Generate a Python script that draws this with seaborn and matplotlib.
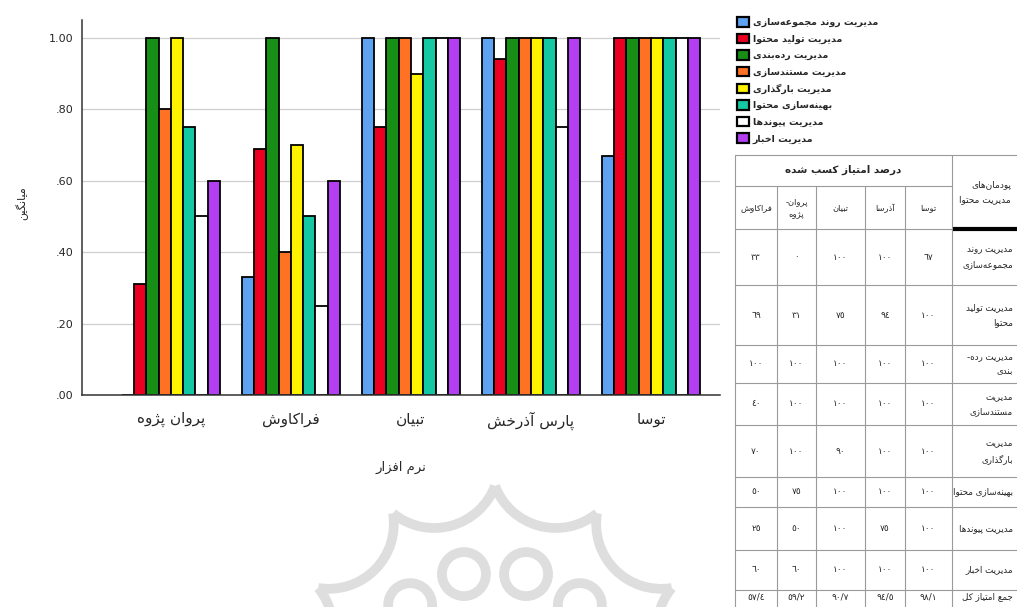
"""
Content management software comparison - grouped bar chart with score table
"""
import numpy as np
import pandas as pd
import matplotlib
matplotlib.use('Agg')
import matplotlib.pyplot as plt
from matplotlib.patches import Circle, Arc
import seaborn as sns

# Data
software = ['پروان پژوه', 'فراکاوش', 'تبیان', 'پارس آذرخش', 'توسا']
modules = ['مدیریت روند مجموعه‌سازی', 'مدیریت تولید محتوا', 'مدیریت رده‌بندی',
           'مدیریت مستندسازی', 'مدیریت بارگذاری', 'بهینه‌سازی محتوا',
           'مدیریت پیوندها', 'مدیریت اخبار']
colors = ['#5ea2f2', '#ec0022', '#178f17', '#ff7224', '#fff200', '#14c8a4',
          '#ffffff', '#b43ef2']

collection = [0.00, 0.33, 1.00, 1.00, 0.67]
production = [0.31, 0.69, 0.75, 0.94, 1.00]
classification = [1.00, 1.00, 1.00, 1.00, 1.00]
documentation = [0.80, 0.40, 1.00, 1.00, 1.00]
upload = [1.00, 0.70, 0.90, 1.00, 1.00]
optimization = [0.75, 0.50, 1.00, 1.00, 1.00]
links = [0.50, 0.25, 1.00, 0.75, 1.00]
news = [0.60, 0.60, 1.00, 1.00, 1.00]
series = [collection, production, classification, documentation,
          upload, optimization, links, news]

# table (columns right to left, as in the source)
table_cols = ['توسا', 'آذرسا', 'تبیان', 'پروان-\nپژوه', 'فراکاوش']
table_order = [4, 3, 2, 0, 1]
table_rows = ['مدیریت روند\nمجموعه‌سازی', 'مدیریت تولید\nمحتوا', 'مدیریت رده-\nبندی',
              'مدیریت\nمستندسازی', 'مدیریت\nبارگذاری', 'بهینه‌سازی محتوا',
              'مدیریت پیوندها', 'مدیریت اخبار']
# the printed table gives 100 for documentation of پروان پژوه
table_documentation = [1.00, 0.40, 1.00, 1.00, 1.00]
table_series = [collection, production, classification, table_documentation,
                upload, optimization, links, news]
totals = [98.1, 94.5, 90.7, 59.2, 57.4]

# Persian shaping (matplotlib has no bidi / joining support)
_F = {
    '\u0627': (0xFE8D, 0xFE8E, None, None), '\u0622': (0xFE81, 0xFE82, None, None),
    '\u0628': (0xFE8F, 0xFE90, 0xFE91, 0xFE92), '\u067E': (0xFB56, 0xFB57, 0xFB58, 0xFB59),
    '\u062A': (0xFE95, 0xFE96, 0xFE97, 0xFE98), '\u062B': (0xFE99, 0xFE9A, 0xFE9B, 0xFE9C),
    '\u062C': (0xFE9D, 0xFE9E, 0xFE9F, 0xFEA0), '\u0686': (0xFB7A, 0xFB7B, 0xFB7C, 0xFB7D),
    '\u062D': (0xFEA1, 0xFEA2, 0xFEA3, 0xFEA4), '\u062E': (0xFEA5, 0xFEA6, 0xFEA7, 0xFEA8),
    '\u062F': (0xFEA9, 0xFEAA, None, None), '\u0630': (0xFEAB, 0xFEAC, None, None),
    '\u0631': (0xFEAD, 0xFEAE, None, None), '\u0632': (0xFEAF, 0xFEB0, None, None),
    '\u0698': (0xFB8A, 0xFB8B, None, None), '\u0633': (0xFEB1, 0xFEB2, 0xFEB3, 0xFEB4),
    '\u0634': (0xFEB5, 0xFEB6, 0xFEB7, 0xFEB8), '\u0635': (0xFEB9, 0xFEBA, 0xFEBB, 0xFEBC),
    '\u0637': (0xFEC1, 0xFEC2, 0xFEC3, 0xFEC4), '\u0639': (0xFEC9, 0xFECA, 0xFECB, 0xFECC),
    '\u0641': (0xFED1, 0xFED2, 0xFED3, 0xFED4), '\u0642': (0xFED5, 0xFED6, 0xFED7, 0xFED8),
    '\u06A9': (0xFB8E, 0xFB8F, 0xFB90, 0xFB91), '\u06AF': (0xFB92, 0xFB93, 0xFB94, 0xFB95),
    '\u0644': (0xFEDD, 0xFEDE, 0xFEDF, 0xFEE0), '\u0645': (0xFEE1, 0xFEE2, 0xFEE3, 0xFEE4),
    '\u0646': (0xFEE5, 0xFEE6, 0xFEE7, 0xFEE8), '\u0648': (0xFEED, 0xFEEE, None, None),
    '\u0647': (0xFEE9, 0xFEEA, 0xFEEB, 0xFEEC), '\u06CC': (0xFBFC, 0xFBFD, 0xFBFE, 0xFBFF),
}


def fa(text):
    lines = []
    for line in text.split('\n'):
        out = []
        for i, ch in enumerate(line):
            f = _F.get(ch)
            if f is None:
                out.append(ch)
                continue
            prev = line[i - 1] if i > 0 else ''
            nxt = line[i + 1] if i + 1 < len(line) else ''
            pj = prev in _F and _F[prev][2] is not None
            nj = nxt in _F and f[2] is not None
            if pj and nj:
                out.append(chr(f[3]))
            elif pj:
                out.append(chr(f[1]))
            elif nj:
                out.append(chr(f[2]))
            else:
                out.append(chr(f[0]))
        lines.append(''.join(out).replace('\u200c', '')[::-1])
    return '\n'.join(lines)


def fa_num(v):
    s = ('%g' % v).replace('.', '/')
    return s.translate(str.maketrans('0123456789', '٠١٢٣٤٥٦٧٨٩'))


df = pd.DataFrame({fa(m): s for m, s in zip(modules, series)})
df['software'] = [fa(s) for s in software]
long = df.melt(id_vars='software', var_name='module', value_name='score')

sns.set_style('white')
plt.rcParams['font.family'] = ['DejaVu Sans']

fig = plt.figure(figsize=(10.17, 6.07), dpi=100)
W, H = 1017, 607
ax = fig.add_axes([82 / W, 1 - 395 / H, (720 - 82) / W, (395 - 20) / H])
ax.set_zorder(2)
ax.patch.set_alpha(0)

sns.barplot(data=long, x='software', y='score', hue='module',
            order=[fa(s) for s in software], hue_order=[fa(m) for m in modules],
            palette=colors, edgecolor='black', linewidth=1.3, width=0.82,
            saturation=1, ax=ax)

ax.set_ylim(0, 1.05)
ax.set_xlim(-0.74, 4.575)
ax.set_yticks([0, 0.2, 0.4, 0.6, 0.8, 1.0])
ax.set_yticklabels(['.00', '.20', '.40', '.60', '.80', '1.00'], fontsize=8)
ax.tick_params(axis='both', length=0, pad=6)
ax.tick_params(axis='x', labelsize=11, pad=12)
ax.yaxis.grid(True, color='#cfcfcf', linewidth=0.9)
ax.set_axisbelow(True)
for side in ['top', 'right']:
    ax.spines[side].set_visible(False)
for side in ['left', 'bottom']:
    ax.spines[side].set_color('#333333')
    ax.spines[side].set_linewidth(1.1)
ax.set_xlabel(fa('نرم افزار'), fontsize=9.5, labelpad=22)
ax.set_ylabel('')

handles, labels = ax.get_legend_handles_labels()
for h in handles:
    h.set_linewidth(1.6)
ax.legend(handles, labels, loc='upper left', bbox_to_anchor=(737 / W, 1 - 17 / H),
          bbox_transform=fig.transFigure, frameon=False,
          prop={'size': 6.8, 'weight': 'bold'},
          handlelength=1.3, handleheight=1.2, labelspacing=0.68,
          handletextpad=0.35, borderpad=0, borderaxespad=0)

# overlay in pixel coordinates for table, labels and watermark
ov = fig.add_axes([0, 0, 1, 1])
ov.set_zorder(1)
ov.set_xlim(0, W)
ov.set_ylim(H, 0)
ov.axis('off')

ov.text(22, 203, fa('میانگین'), rotation=90, fontsize=8, ha='center', va='center')

# faint watermark rosette: inner arcs of a ring of circles + small inner rings
cx, cy = 495, 690
D, r = 235, 65
wm = '#dedede'
for k in range(12):
    phi = np.deg2rad(15 + 30 * k)
    px, py = cx + D * np.sin(phi), cy - D * np.cos(phi)
    pts = []
    for s in (-1, 1):
        b = phi + s * np.deg2rad(15)
        # inner intersection with neighbour lies on bisector b
        dcos = D * np.cos(np.deg2rad(15))
        dsin = D * np.sin(np.deg2rad(15))
        dist = dcos - np.sqrt(r ** 2 - dsin ** 2)
        pts.append((cx + dist * np.sin(b), cy - dist * np.cos(b)))
    a1 = np.degrees(np.arctan2(pts[0][1] - py, pts[0][0] - px))
    a2 = np.degrees(np.arctan2(pts[1][1] - py, pts[1][0] - px))
    ac = np.degrees(np.arctan2(cy - py, cx - px))
    t1, t2 = sorted([a1, a2])
    if not (t1 <= ac <= t2):
        t1, t2 = t2, t1 + 360
    ov.add_patch(Arc((px, py), 2 * r, 2 * r, theta1=t1, theta2=t2,
                     color=wm, lw=7, zorder=0))
    ov.add_patch(Circle((cx + 120 * np.sin(phi), cy - 120 * np.cos(phi)), 22,
                        fill=False, ec=wm, lw=7, zorder=0))

# table
xs = [735, 777, 816, 865, 905, 952, 1017]
ys = [155, 186, 229, 285, 345, 383, 425, 477, 507, 550, 590, 620]
grid_c = '#9a9a9a'
ov.plot([735, 1017], [155, 155], color=grid_c, lw=0.8)
ov.plot([735, 952], [186, 186], color=grid_c, lw=0.8)
for y in ys[2:]:
    ov.plot([735, 1017], [y, y], color=grid_c, lw=0.8)
ov.plot([952, 1017], [229, 229], color='black', lw=3, solid_capstyle='butt')
ov.plot([735, 735], [155, H], color=grid_c, lw=0.8)
ov.plot([952, 952], [155, H], color=grid_c, lw=0.8)
for x in xs[1:5]:
    ov.plot([x, x], [186, H], color=grid_c, lw=0.8)

ov.text((735 + 952) / 2, 170, fa('درصد امتیاز کسب شده'), fontsize=7.5,
        fontweight='bold', ha='center', va='center')
ov.text(985, 192, fa('پودمان‌های\nمدیریت محتوا'), fontsize=6.5,
        ha='center', va='center', multialignment='right', linespacing=1.8)

# columns are laid out right to left
col_centers = [(xs[4 - j] + xs[5 - j]) / 2 for j in range(5)]
for j, name in enumerate(table_cols):
    ov.text(col_centers[j], 208, fa(name), fontsize=6, ha='center', va='center',
            linespacing=1.6)

for i, row in enumerate(table_rows):
    yc = (ys[i + 2] + ys[i + 3]) / 2
    ov.text(1013, yc, fa(row), fontsize=6.3, ha='right', va='center',
            multialignment='right', linespacing=1.8)
    for j, idx in enumerate(table_order):
        ov.text(col_centers[j], yc, fa_num(round(table_series[i][idx] * 100)),
                fontsize=6.5, ha='center', va='center')

yc = (ys[10] + ys[11]) / 2 - 8
ov.text(1013, yc, fa('جمع امتیاز کل'), fontsize=6.3, ha='right', va='center')
for j, t in enumerate(totals):
    ov.text(col_centers[j], yc, fa_num(t), fontsize=6.5, ha='center', va='center')

fig.savefig('out.png', dpi=100, facecolor='white')
